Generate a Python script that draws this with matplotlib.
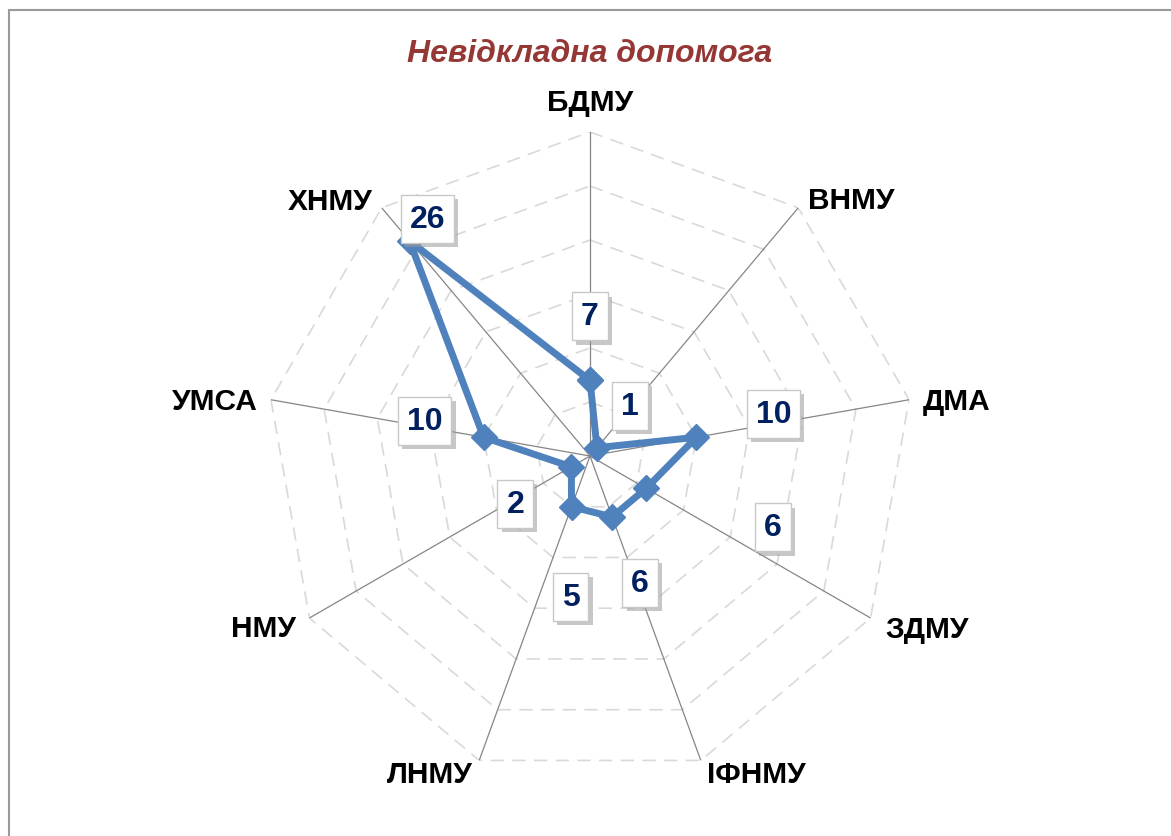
import numpy as np
import matplotlib.pyplot as plt
import matplotlib.patheffects as pe
from matplotlib.patches import Rectangle

plt.rcParams['font.family'] = ['Liberation Sans', 'DejaVu Sans']

title = 'Невідкладна допомога'
universities = ['БДМУ', 'ВНМУ', 'ДМА', 'ЗДМУ', 'ІФНМУ', 'ЛНМУ', 'НМУ', 'УМСА', 'ХНМУ']
cases = [7, 1, 10, 6, 6, 5, 2, 10, 26]
r_max = 30
r_step = 5

# where the texts sit, in pixels (from spoke tip / from data point)
cat_offsets = [(0, 22, 'center'), (10, 0, 'left'), (14, -9, 'left'), (15, -19, 'left'),
               (6, -22, 'left'), (-6, -22, 'right'), (-13, -18, 'right'),
               (-13, -9, 'right'), (-9, -1, 'right')]
val_offsets = [(0, 64), (33, 42), (77, 23), (127, -39), (28, -66),
               (-1, -90), (-56, -37), (-59, 16), (18, 22)]

W, H = 1171, 837
fig = plt.figure(figsize=(W / 100, H / 100), dpi=100)
cx, cy, R = 590, 457, 324
ax = fig.add_axes([(cx - R) / W, (H - cy - R) / H, 2 * R / W, 2 * R / H], projection='polar')
ax.set_theta_zero_location('N')
ax.set_theta_direction(-1)
ax.set_axis_off()

n = len(universities)
theta = np.arange(n) * 2 * np.pi / n
theta_c = np.append(theta, theta[0])

# dashed rings
for r in np.arange(r_step, r_max + 1, r_step):
    ax.plot(theta_c, [r] * (n + 1), color='#D9D9D9', lw=1.2, dashes=(8, 5), zorder=1)
# spokes
for t in theta:
    ax.plot([t, t], [0, r_max], color='#868686', lw=0.9, zorder=2)

vals = np.append(cases, cases[0])
ax.plot(theta_c, vals, color='#4F81BD', lw=5, marker='D', ms=13,
        mfc='#4F81BD', mec='#4F81BD', solid_joinstyle='round', zorder=3)
ax.set_ylim(0, r_max)

for t, name, (dx, dy, ha) in zip(theta, universities, cat_offsets):
    ax.annotate(name, xy=(t, r_max), xytext=(dx, dy), textcoords='offset pixels',
                ha=ha, va='baseline', fontsize=21.5, fontweight='bold', color='black')

for t, v, (dx, dy) in zip(theta, cases, val_offsets):
    lab = ax.annotate(str(v), xy=(t, v), xytext=(dx, dy), textcoords='offset pixels',
                      ha='center', va='center', fontsize=23, fontweight='bold', color='#002060',
                      bbox=dict(boxstyle='square,pad=0.28', fc='white', ec='#C8C8C8', lw=1),
                      zorder=5)
    lab.get_bbox_patch().set_path_effects([
        pe.SimplePatchShadow(offset=(3, -3), shadow_rgbFace='#9A9A9A', alpha=0.55),
        pe.Normal()])

fig.text(589.5 / W, 1 - 62 / H, title, ha='center', va='baseline', fontsize=23,
         fontweight='bold', style='italic', color='#953735')

fig.add_artist(Rectangle((9 / W, -0.05), 1.1, 1.05 - 11 / H, transform=fig.transFigure,
                         fill=False, edgecolor='#9A9A9A', lw=1.5))

fig.savefig('out.png', dpi=100)
